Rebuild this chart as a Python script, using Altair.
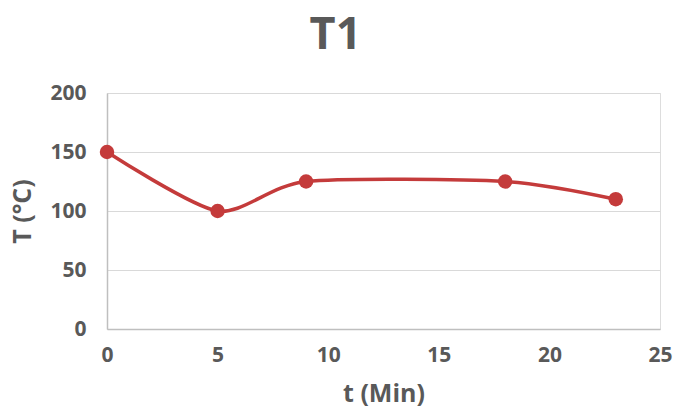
import altair as alt
import pandas as pd

t_min = [0, 5, 9, 18, 23]
temp_c = [150, 100, 125, 125, 110]

df = pd.DataFrame({"t": t_min, "T": temp_c})

RED = "#c43b3b"
GRAY = "#595959"
FONT = "Open Sans"

x = alt.X("t:Q", title="t (Min)",
          scale=alt.Scale(domain=[0, 25], nice=False),
          axis=alt.Axis(values=[0, 5, 10, 15, 20, 25], grid=False, ticks=False,
                        labelFlush=False,
                        domainColor="#bfbfbf", domainWidth=1.5,
                        labelFont=FONT, labelFontSize=21, labelFontWeight="bold",
                        labelColor=GRAY, labelPadding=15,
                        titleFont=FONT, titleFontSize=25, titleFontWeight="bold",
                        titleColor=GRAY, titlePadding=16))
y = alt.Y("T:Q", title="T (°C)",
          scale=alt.Scale(domain=[0, 200], nice=False),
          axis=alt.Axis(values=[0, 50, 100, 150, 200], ticks=False,
                        labelFlush=False,
                        gridColor="#d9d9d9", gridWidth=1.2,
                        domainColor="#bfbfbf", domainWidth=1.5,
                        labelFont=FONT, labelFontSize=21, labelFontWeight="bold",
                        labelColor=GRAY, labelPadding=21,
                        titleFont=FONT, titleFontSize=25, titleFontWeight="bold",
                        titleColor=GRAY, titlePadding=14))

base = alt.Chart(df).encode(x=x, y=y)
line = base.mark_line(color=RED, strokeWidth=3.5, interpolate="cardinal", tension=0.25)
pts = base.mark_point(filled=True, color=RED, size=210, opacity=1)

chart = (line + pts).properties(
    width=553, height=236,
    title=alt.TitleParams("T1", font=FONT, fontSize=45, fontWeight="bold",
                          color=GRAY, anchor="middle", dx=-48, offset=24),
    autosize=alt.AutoSizeParams(type="none"),
    padding={"left": 99, "top": 85, "right": 13, "bottom": 83},
).configure_view(stroke=None).configure(background="white")

chart.save("out.html", embed_options={"renderer": "svg", "actions": False})
